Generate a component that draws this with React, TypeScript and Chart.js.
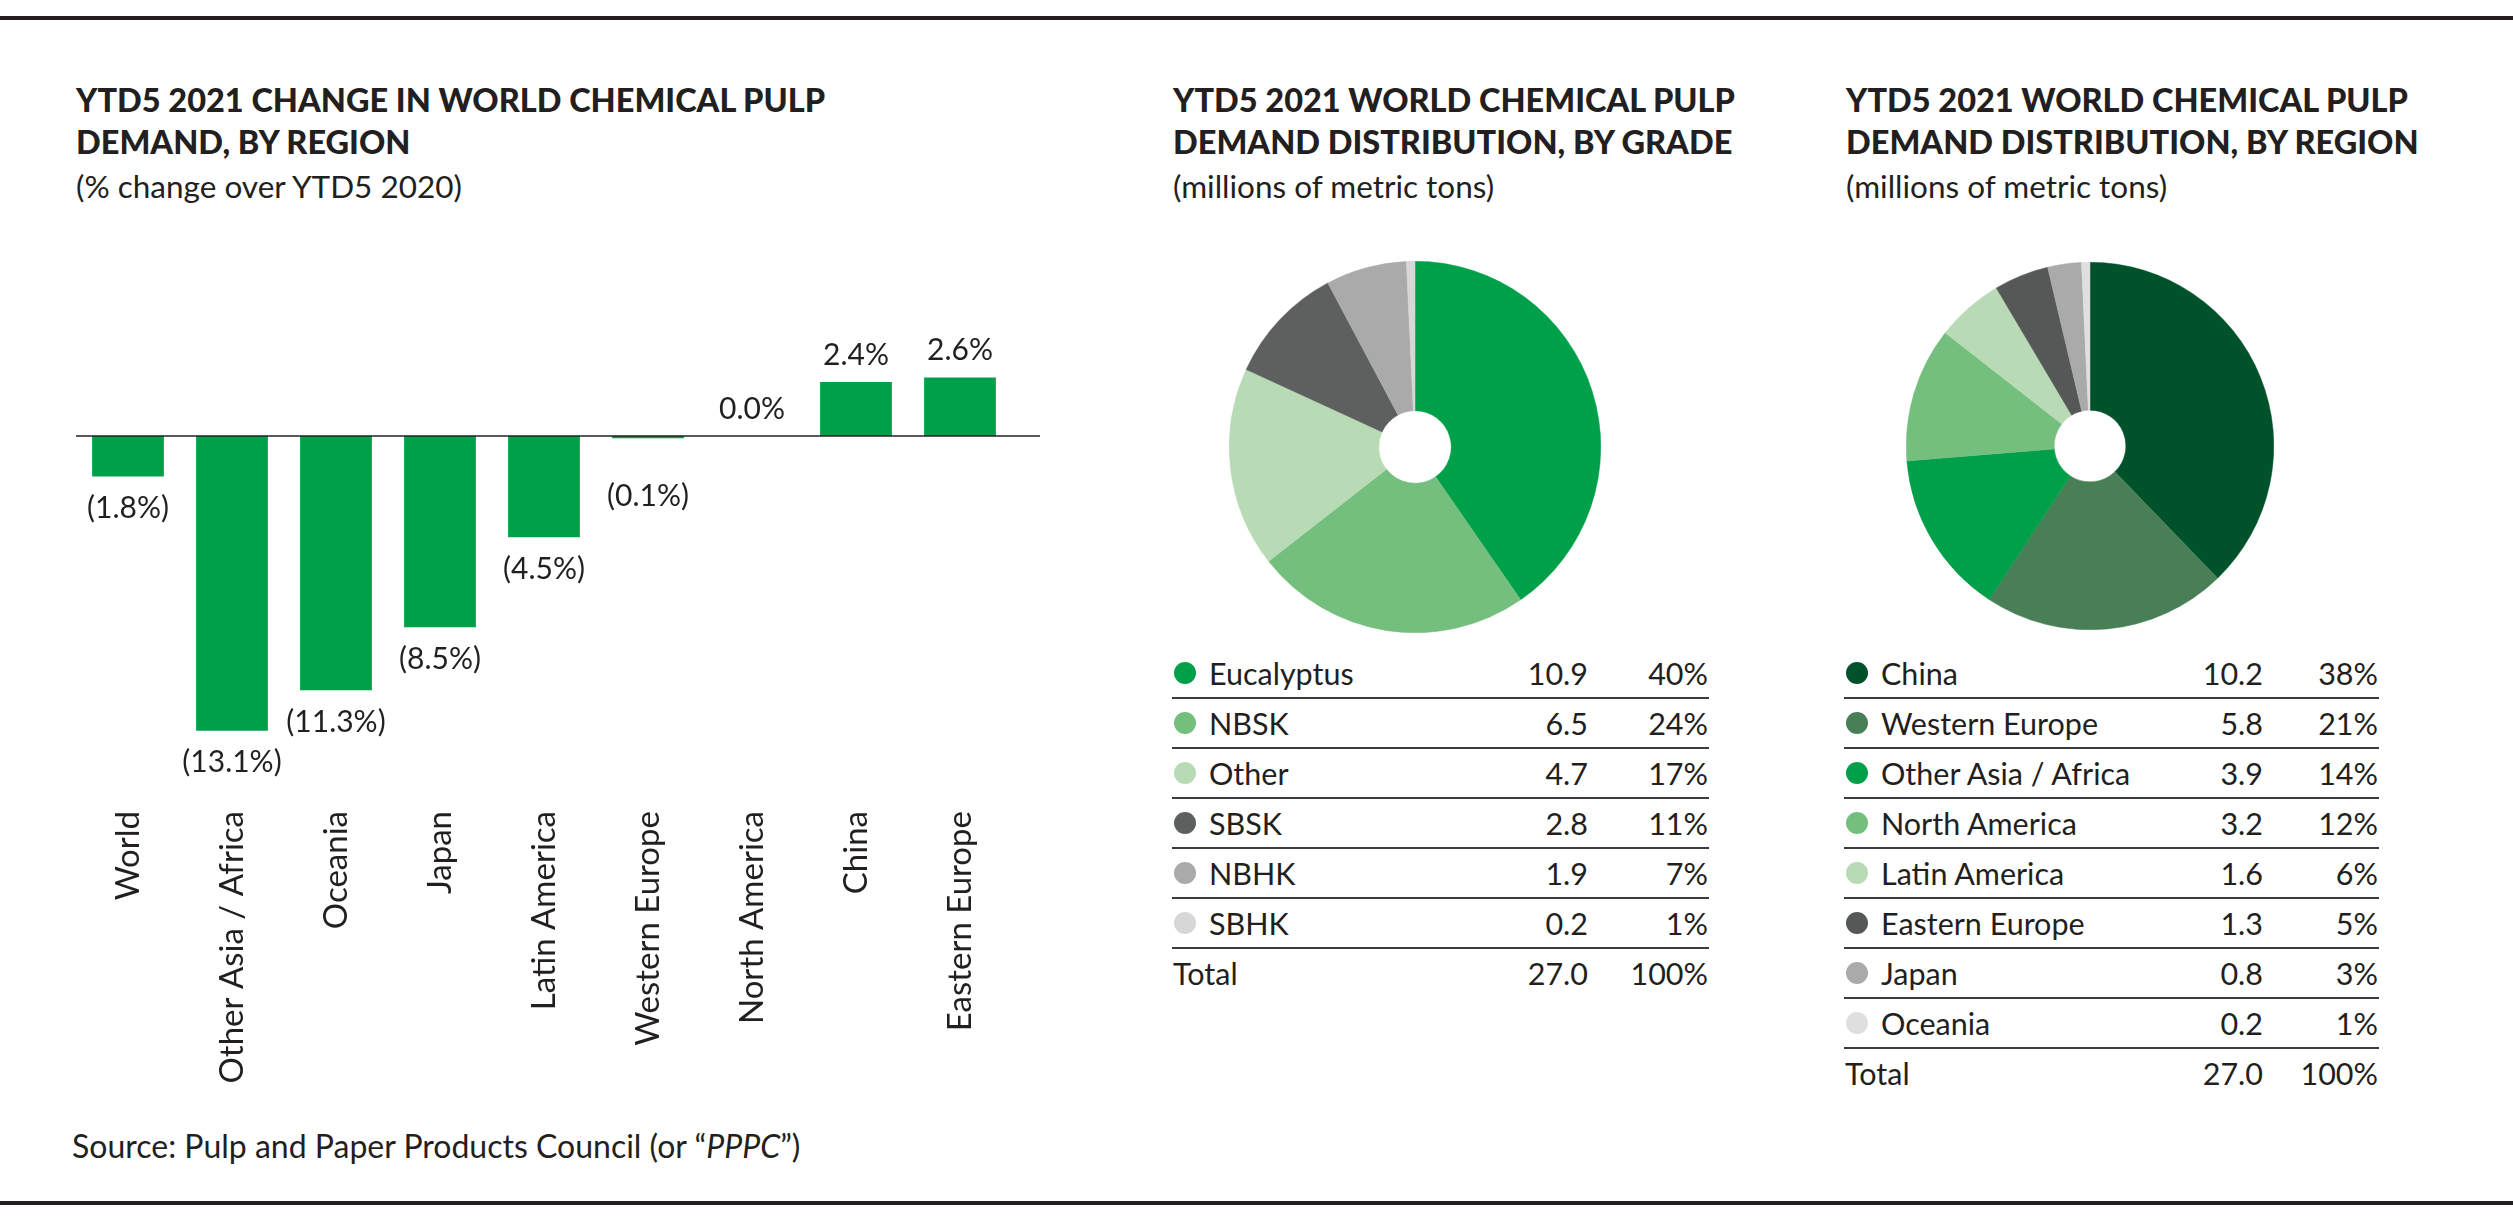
import React, { useEffect, useRef } from "react";
import { Chart, registerables } from "chart.js";

Chart.register(...registerables);

// ---------- data ----------
const barCategories = [
  "World",
  "Other Asia / Africa",
  "Oceania",
  "Japan",
  "Latin America",
  "Western Europe",
  "North America",
  "China",
  "Eastern Europe",
];
const barValues = [-1.8, -13.1, -11.3, -8.5, -4.5, -0.1, 0.0, 2.4, 2.6];

const gradeLabels = ["Eucalyptus", "NBSK", "Other", "SBSK", "NBHK", "SBHK"];
const gradeValues = [10.9, 6.5, 4.7, 2.8, 1.9, 0.2];
const gradeShares = ["40%", "24%", "17%", "11%", "7%", "1%"];
const gradeTotal = ["27.0", "100%"];

const regionLabels = [
  "China",
  "Western Europe",
  "Other Asia / Africa",
  "North America",
  "Latin America",
  "Eastern Europe",
  "Japan",
  "Oceania",
];
const regionValues = [10.2, 5.8, 3.9, 3.2, 1.6, 1.3, 0.8, 0.2];
const regionShares = ["38%", "21%", "14%", "12%", "6%", "5%", "3%", "1%"];
const regionTotal = ["27.0", "100%"];

// ---------- styles ----------
const FONT = "Lato, 'Open Sans', 'DejaVu Sans', sans-serif";
const INK = "#231F20";
const BAR_GREEN = "#00A04A";
const gradeColors = ["#00A04A", "#74BF7E", "#B8DBB6", "#5E605F", "#A9AAA9", "#D6D7D6"];
const regionColors = [
  "#00522A",
  "#487F57",
  "#00A04A",
  "#74BF7E",
  "#B8DBB6",
  "#565757",
  "#A9AAA9",
  "#DDE0DF",
];

function fmtPct(v: number): string {
  return v < 0 ? `(${Math.abs(v).toFixed(1)}%)` : `${v.toFixed(1)}%`;
}

function BarChart() {
  const ref = useRef<HTMLCanvasElement | null>(null);
  useEffect(() => {
    if (!ref.current) return;
    const valueLabels = {
      id: "valueLabels",
      afterDatasetsDraw(chart: any) {
        const ctx = chart.ctx;
        const meta = chart.getDatasetMeta(0);
        const y0 = chart.scales.y.getPixelForValue(0);
        ctx.save();
        ctx.strokeStyle = INK;
        ctx.lineWidth = 1.6;
        ctx.beginPath();
        ctx.moveTo(chart.chartArea.left, y0);
        ctx.lineTo(chart.chartArea.right + 28, y0);
        ctx.stroke();
        ctx.font = `30px ${FONT}`;
        ctx.fillStyle = INK;
        ctx.textAlign = "center";
        ctx.textBaseline = "middle";
        meta.data.forEach((bar: any, i: number) => {
          const v = barValues[i];
          const y = v < 0 ? Math.max(bar.y + 32, y0 + 60) : bar.y - 27;
          ctx.fillText(fmtPct(v), bar.x, y);
        });
        ctx.restore();
      },
    };
    const chart = new Chart(ref.current, {
      type: "bar",
      data: {
        labels: barCategories,
        datasets: [
          {
            data: barValues,
            backgroundColor: BAR_GREEN,
            borderWidth: 0,
            categoryPercentage: 1,
            barPercentage: 0.69,
          },
        ],
      },
      options: {
        responsive: false,
        animation: false,
        layout: { padding: { left: 76, right: 88, top: 346, bottom: 0 } },
        plugins: { legend: { display: false }, tooltip: { enabled: false } },
        scales: {
          x: {
            grid: { display: false, drawTicks: false },
            border: { display: false },
            ticks: {
              autoSkip: false,
              minRotation: 90,
              maxRotation: 90,
              padding: 60,
              color: INK,
              font: { family: FONT, size: 33 },
            },
            afterFit: (s: any) => {
              s.height = 349;
            },
          },
          y: { display: false, min: -14, max: 4 },
        },
      },
      plugins: [valueLabels],
    } as any);
    return () => chart.destroy();
  }, []);
  return (
    <canvas
      ref={ref}
      width={1100}
      height={1100}
      style={{ position: "absolute", left: 0, top: 0 }}
    />
  );
}

function Donut(props: {
  labels: string[];
  values: number[];
  colors: string[];
  left: number;
  top: number;
  size: number;
}) {
  const ref = useRef<HTMLCanvasElement | null>(null);
  useEffect(() => {
    if (!ref.current) return;
    const chart = new Chart(ref.current, {
      type: "doughnut",
      data: {
        labels: props.labels,
        datasets: [
          {
            data: props.values,
            backgroundColor: props.colors,
            borderColor: props.colors,
            borderWidth: 0.5,
          },
        ],
      },
      options: {
        responsive: false,
        animation: false,
        cutout: "19.5%",
        layout: { padding: 0 },
        plugins: { legend: { display: false }, tooltip: { enabled: false } },
      },
    } as any);
    return () => chart.destroy();
  }, []);
  return (
    <canvas
      ref={ref}
      width={props.size}
      height={props.size}
      style={{ position: "absolute", left: props.left, top: props.top }}
    />
  );
}

function Title(props: { left: number; lines: string[]; sub: string }) {
  const base: React.CSSProperties = {
    position: "absolute",
    left: props.left,
    fontFamily: FONT,
    lineHeight: "40px",
    color: INK,
    whiteSpace: "nowrap",
  };
  return (
    <>
      <div style={{ ...base, top: 80, fontSize: 32.5, fontWeight: 900 }}>{props.lines[0]}</div>
      <div style={{ ...base, top: 122, fontSize: 32.5, fontWeight: 900 }}>{props.lines[1]}</div>
      <div style={{ ...base, top: 166, fontSize: 31.5, fontWeight: 400 }}>{props.sub}</div>
    </>
  );
}

function Table(props: {
  left: number;
  width: number;
  labels: string[];
  values: number[];
  shares: string[];
  colors: string[];
  total: string[];
  valueRight: number;
}) {
  const rowH = 48;
  const top0 = 649;
  const cell: React.CSSProperties = {
    position: "absolute",
    fontFamily: FONT,
    fontSize: 30.5,
    lineHeight: `${rowH}px`,
    color: INK,
    whiteSpace: "nowrap",
    top: 0,
  };
  const rows = props.labels.map((lab, i) => (
    <div
      key={lab}
      style={{
        position: "absolute",
        left: props.left,
        top: top0 + i * (rowH + 2),
        width: props.width,
        height: rowH,
        borderBottom: "2px solid #3c3c3c",
      }}
    >
      <div
        style={{
          position: "absolute",
          left: 2,
          top: (rowH - 22) / 2,
          width: 22,
          height: 22,
          borderRadius: "50%",
          background: props.colors[i],
        }}
      />
      <div style={{ ...cell, left: 37 }}>{lab}</div>
      <div style={{ ...cell, right: props.width - props.valueRight, textAlign: "right" }}>
        {props.values[i].toFixed(1)}
      </div>
      <div style={{ ...cell, right: 1, textAlign: "right" }}>{props.shares[i]}</div>
    </div>
  ));
  const n = props.labels.length;
  return (
    <>
      {rows}
      <div
        style={{
          position: "absolute",
          left: props.left,
          top: top0 + n * (rowH + 2),
          width: props.width,
          height: rowH,
        }}
      >
        <div style={{ ...cell, left: 1 }}>Total</div>
        <div style={{ ...cell, right: props.width - props.valueRight, textAlign: "right" }}>
          {props.total[0]}
        </div>
        <div style={{ ...cell, right: 1, textAlign: "right" }}>{props.total[1]}</div>
      </div>
    </>
  );
}

export default function App() {
  return (
    <div
      style={{
        position: "absolute",
        left: 0,
        top: 0,
        width: 2513,
        height: 1228,
        background: "#fff",
        overflow: "hidden",
      }}
    >
      <div style={{ position: "absolute", left: 0, top: 16, width: 2513, height: 4, background: INK }} />
      <div style={{ position: "absolute", left: 0, top: 1201, width: 2513, height: 4, background: INK }} />

      <Title
        left={76}
        lines={["YTD5 2021 CHANGE IN WORLD CHEMICAL PULP", "DEMAND, BY REGION"]}
        sub="(% change over YTD5 2020)"
      />
      <Title
        left={1173}
        lines={["YTD5 2021 WORLD CHEMICAL PULP", "DEMAND DISTRIBUTION, BY GRADE"]}
        sub="(millions of metric tons)"
      />
      <Title
        left={1846}
        lines={["YTD5 2021 WORLD CHEMICAL PULP", "DEMAND DISTRIBUTION, BY REGION"]}
        sub="(millions of metric tons)"
      />

      <BarChart />

      <Donut labels={gradeLabels} values={gradeValues} colors={gradeColors} left={1229} top={261} size={372} />
      <Donut labels={regionLabels} values={regionValues} colors={regionColors} left={1906} top={262} size={368} />

      <Table
        left={1172}
        width={537}
        labels={gradeLabels}
        values={gradeValues}
        shares={gradeShares}
        colors={gradeColors}
        total={gradeTotal}
        valueRight={416}
      />
      <Table
        left={1844}
        width={535}
        labels={regionLabels}
        values={regionValues}
        shares={regionShares}
        colors={regionColors}
        total={regionTotal}
        valueRight={419}
      />

      <div
        style={{
          position: "absolute",
          left: 72,
          top: 1126,
          fontFamily: FONT,
          fontSize: 32,
          lineHeight: "40px",
          color: INK,
          whiteSpace: "nowrap",
        }}
      >
        Source: Pulp and Paper Products Council (or “<i>PPPC</i>”)
      </div>
    </div>
  );
}
